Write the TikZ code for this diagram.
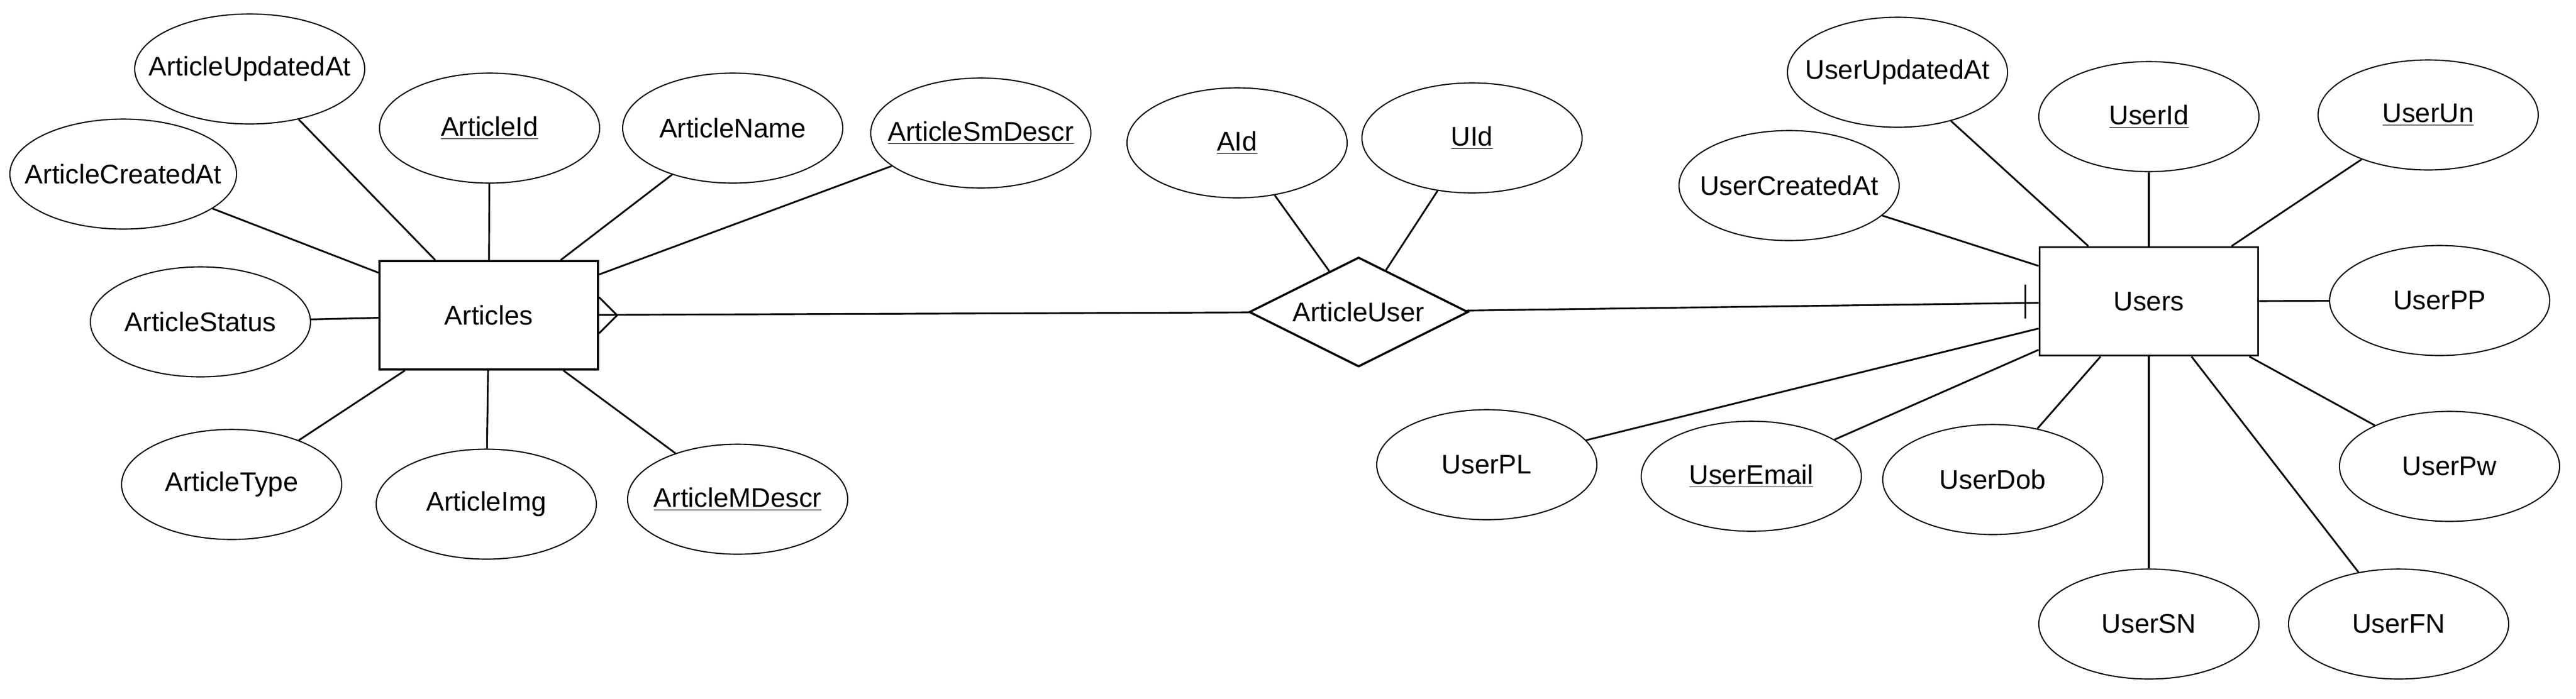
\documentclass[tikz,border=0pt]{standalone}
\usepackage{fontspec}
\setmainfont{Liberation Sans}
\usepackage{tikz}
\usetikzlibrary{shapes.geometric}

\tikzset{
    attr/.style={ellipse,draw,line width=0.6pt,minimum width=40.2mm,minimum height=20.1mm,
        inner sep=0pt,font=\fontsize{14}{17}\selectfont,
        execute at begin node={\hbox to 0pt\bgroup\hss},
        execute at end node={\hss\egroup}},
    entity/.style={rectangle,draw,line width=1.1pt,minimum width=39.9mm,minimum height=19.8mm,
        font=\fontsize{14}{17}\selectfont},
    relation/.style={diamond,draw,line width=1.1pt,aspect=2,inner sep=1pt,
        minimum width=40mm,minimum height=20mm,font=\fontsize{14}{17}\selectfont},
    conn/.style={line width=0.9pt}
}

\begin{document}
\begin{tikzpicture}[x=0.3mm,y=-0.3mm]
    \useasboundingbox (0,0) rectangle (1568,425.33);

    % Entities and relation
    \node[entity] (Articles) at (297.5,192) {Articles};
    \node[entity] (Users) at (1308,183.5) {Users};
    \node[relation] (ArticleUser) at (827,190) {ArticleUser};

    % Article attributes
    \node[attr,minimum width=42mm] (ArticleUpdatedAt) at (152,42) {ArticleUpdatedAt};
    \node[attr] (ArticleId) at (298,78) {\underline{ArticleId}};
    \node[attr] (ArticleName) at (446,78) {ArticleName};
    \node[attr] (ArticleSmDescr) at (597,81) {\underline{ArticleSmDescr}};
    \node[attr,minimum width=41.4mm] (ArticleCreatedAt) at (75,106) {ArticleCreatedAt};
    \node[attr] (ArticleStatus) at (122,196) {ArticleStatus};
    \node[attr] (ArticleType) at (141,295) {ArticleType};
    \node[attr] (ArticleImg) at (296,307) {ArticleImg};
    \node[attr] (ArticleMDescr) at (449,304) {\underline{ArticleMDescr}};

    % Relation attributes
    \node[attr] (AId) at (753,87) {\underline{AId}};
    \node[attr] (UId) at (896,84) {\underline{UId}};

    % User attributes
    \node[attr] (UserUpdatedAt) at (1155,44) {UserUpdatedAt};
    \node[attr] (UserId) at (1308,71) {\underline{UserId}};
    \node[attr] (UserUn) at (1478,70) {\underline{UserUn}};
    \node[attr] (UserCreatedAt) at (1089,113) {UserCreatedAt};
    \node[attr] (UserPP) at (1485,183) {UserPP};
    \node[attr] (UserPw) at (1491,284) {UserPw};
    \node[attr] (UserPL) at (905,283) {UserPL};
    \node[attr] (UserEmail) at (1066,290) {\underline{UserEmail}};
    \node[attr] (UserDob) at (1213,292) {UserDob};
    \node[attr] (UserSN) at (1308,380) {UserSN};
    \node[attr] (UserFN) at (1460,380) {UserFN};

    % Attribute links
    \foreach \a in {ArticleUpdatedAt,ArticleId,ArticleName,ArticleSmDescr,ArticleCreatedAt,
                    ArticleStatus,ArticleType,ArticleImg,ArticleMDescr}
        \draw[conn] (\a) -- (Articles);
    \foreach \a in {AId,UId}
        \draw[conn] (\a) -- (ArticleUser);
    \foreach \a in {UserUpdatedAt,UserId,UserUn,UserCreatedAt,UserPP,UserPw,
                    UserPL,UserEmail,UserDob,UserSN,UserFN}
        \draw[conn] (\a) -- (Users);

    % Relationship lines
    \draw[conn] (Articles) -- (ArticleUser);
    \draw[conn] (ArticleUser) -- (Users);

    % Many (crow's foot) at Articles
    \draw[conn] ([yshift=3.3mm]Articles.east) -- ([xshift=3.3mm]Articles.east)
        -- ([yshift=-3.3mm]Articles.east);

    % One (bar) at Users
    \draw[conn] ([xshift=-2.4mm,yshift=3.1mm]Users.west) -- ([xshift=-2.4mm,yshift=-3.1mm]Users.west);
\end{tikzpicture}
\end{document}
